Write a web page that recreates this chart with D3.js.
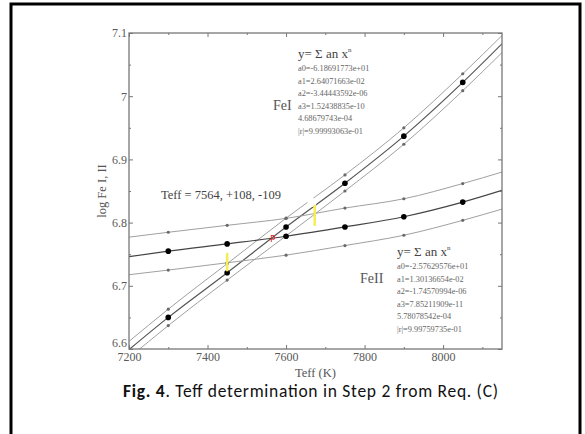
<!DOCTYPE html>
<html><head><meta charset="utf-8">
<script src="https://cdn.jsdelivr.net/npm/d3@7"></script>
<style>
html,body{margin:0;padding:0;background:#fff;}
svg{display:block;}
.serif{font-family:"Liberation Serif","Times New Roman",serif;}
</style></head>
<body><svg id="c" width="585" height="434"></svg>
<script>
// ---- data ----
const teff = [7300, 7450, 7600, 7750, 7900, 8050];
const feI    = [6.650, 6.7207, 6.7931, 6.8623, 6.9368, 7.0218];
const feIUp  = [6.663, 6.735, 6.807, 6.8755, 6.950, 7.0355];
const feILo  = [6.637, 6.709, 6.779, 6.850, 6.924, 7.0087];
const feII   = [6.7548, 6.7663, 6.7784, 6.7931, 6.8093, 6.8324];
const feIIUp = [6.7847, 6.7957, 6.8067, 6.8230, 6.8377, 6.8618];
const feIILo = [6.7249, 6.7364, 6.7485, 6.7637, 6.7800, 6.8036];

const fitX      = [7200, 7300, 7450, 7600, 7750, 7900, 8050, 8150];
const fitFeI    = [6.599, 6.650, 6.7207, 6.7931, 6.8623, 6.9368, 7.0218, 7.083];
const fitFeIUp  = [6.612, 6.663, 6.735, 6.807, 6.8755, 6.950, 7.0355, 7.096];
const fitFeILo  = [6.586, 6.637, 6.709, 6.779, 6.850, 6.924, 7.0087, 7.069];
const fitFeII   = [6.746, 6.7548, 6.7663, 6.7784, 6.7931, 6.8093, 6.8324, 6.851];
const fitFeIIUp = [6.777, 6.7847, 6.7957, 6.8067, 6.8230, 6.8377, 6.8618, 6.880];
const fitFeIILo = [6.7175, 6.7249, 6.7364, 6.7485, 6.7637, 6.7800, 6.8036, 6.8214];

const xTicks = [7200, 7400, 7600, 7800, 8000];
const xMinor = [7300, 7500, 7700, 7900, 8100];
const yTicks = [6.6, 6.7, 6.8, 6.9, 7.0, 7.1];
const yTickLabels = ["6.6", "6.7", "6.8", "6.9", "7", "7.1"];
const yMinor = [6.65, 6.75, 6.85, 6.95, 7.05];

const yellowBars = [{x: 7450, y0: 6.723, y1: 6.752}, {x: 7673, y0: 6.795, y1: 6.828}];
const whiteSpot = {x: 7666, y: 6.832};
const pMark = {x: 7566, y: 6.7747, label: "P"};

const teffNote = "Teff = 7564, +108, -109";
const feILabel = "FeI", feIILabel = "FeII";
const feICoeffs = ["a0=-6.18691773e+01", "a1=2.64071663e-02", "a2=-3.44443592e-06", "a3=1.52438835e-10", "4.68679743e-04", "|r|=9.99993063e-01"];
const feIICoeffs = ["a0=-2.57629576e+01", "a1=1.30136654e-02", "a2=-1.74570994e-06", "a3=7.85211909e-11", "5.78078542e-04", "|r|=9.99759735e-01"];
const xLabel = "Teff (K)", yLabel = "log Fe I, II";
const captionBold = "Fig. 4";
const captionRest = ". Teff determination in Step 2 from Req. (C)";

// ---- chart ----
const svg = d3.select("#c");
const L = 129, R = 502, T = 33, B = 349;
const x = d3.scaleLinear().domain([7200, 8150]).range([L, R]);
const y = d3.scaleLinear().domain([6.6, 7.1]).range([B, T]);

// outer frame
svg.append("path").attr("d", "M11,434 V4 H580 V434").attr("fill", "none").attr("stroke", "#000").attr("stroke-width", 3);

svg.append("defs").append("clipPath").attr("id", "clip")
  .append("rect").attr("x", L).attr("y", T).attr("width", R - L).attr("height", B - T);

const plot = svg.append("g").attr("clip-path", "url(#clip)");
const line = d3.line().x(d => x(d[0])).y(d => y(d[1])).curve(d3.curveMonotoneX);
const fits = [
  [fitFeIUp, "#a0a0a0", 1], [fitFeILo, "#a0a0a0", 1], [fitFeI, "#555", 1.2],
  [fitFeIIUp, "#a0a0a0", 1], [fitFeIILo, "#a0a0a0", 1], [fitFeII, "#444", 1.2]
];
fits.forEach(([vals, col, w]) => {
  plot.append("path").datum(fitX.map((t, i) => [t, vals[i]]))
    .attr("d", line).attr("fill", "none").attr("stroke", col).attr("stroke-width", w);
});

// small markers
[feIUp, feILo, feIIUp, feIILo].forEach(vals => {
  plot.selectAll(null).data(teff.map((t, i) => [t, vals[i]])).enter().append("circle")
    .attr("cx", d => x(d[0])).attr("cy", d => y(d[1])).attr("r", 1.6).attr("fill", "#6a6a6a");
});
// main markers
[feI, feII].forEach(vals => {
  plot.selectAll(null).data(teff.map((t, i) => [t, vals[i]])).enter().append("circle")
    .attr("cx", d => x(d[0])).attr("cy", d => y(d[1])).attr("r", 2.8).attr("fill", "#000");
});

// white spot, yellow bars, P
plot.append("circle").attr("cx", x(whiteSpot.x)).attr("cy", y(whiteSpot.y)).attr("r", 4.5).attr("fill", "#fff");
plot.selectAll(null).data(yellowBars).enter().append("line")
  .attr("x1", d => x(d.x)).attr("x2", d => x(d.x)).attr("y1", d => y(d.y0)).attr("y2", d => y(d.y1))
  .attr("stroke", "#f3ee52").attr("stroke-width", 2.5);
plot.append("text").attr("x", x(pMark.x)).attr("y", y(pMark.y) + 3.5).attr("text-anchor", "middle")
  .attr("font-family", "DejaVu Sans, sans-serif").attr("font-size", 9).attr("fill", "#e8201c").text(pMark.label);

// axes
const axCol = "#777";
function styleAxis(g) {
  g.select(".domain").remove();
  g.selectAll(".tick line").attr("stroke", axCol);
  g.selectAll("text").attr("fill", "#5a5a5a").attr("font-family", "Liberation Serif, serif").attr("font-size", 12);
}
svg.append("g").attr("transform", `translate(0,${B})`)
  .call(d3.axisBottom(x).tickValues(xTicks).tickSize(-4).tickPadding(3).tickFormat(d3.format("d"))).call(styleAxis);
svg.append("g").attr("transform", `translate(0,${B})`)
  .call(d3.axisBottom(x).tickValues(xMinor).tickSize(-2).tickFormat("")).call(styleAxis);
svg.append("g").attr("transform", `translate(0,${T})`)
  .call(d3.axisTop(x).tickValues(xTicks).tickSize(-4).tickFormat("")).call(styleAxis);
svg.append("g").attr("transform", `translate(0,${T})`)
  .call(d3.axisTop(x).tickValues(xMinor).tickSize(-2).tickFormat("")).call(styleAxis);
const yAx = svg.append("g").attr("transform", `translate(${L},0)`)
  .call(d3.axisLeft(y).tickValues(yTicks).tickSize(-4).tickPadding(2).tickFormat((d, i) => yTickLabels[i])).call(styleAxis);
// nudge the bottom-most label up so it clears the 7200 label
yAx.selectAll(".tick text").filter(d => d === 6.6).attr("dy", "-0.17em");
svg.append("g").attr("transform", `translate(${L},0)`)
  .call(d3.axisLeft(y).tickValues(yMinor).tickSize(-2).tickFormat("")).call(styleAxis);
svg.append("g").attr("transform", `translate(${R},0)`)
  .call(d3.axisRight(y).tickValues(yTicks).tickSize(-4).tickFormat("")).call(styleAxis);
svg.append("g").attr("transform", `translate(${R},0)`)
  .call(d3.axisRight(y).tickValues(yMinor).tickSize(-2).tickFormat("")).call(styleAxis);

svg.append("rect").attr("x", L).attr("y", T).attr("width", R - L).attr("height", B - T)
  .attr("fill", "none").attr("stroke", axCol).attr("stroke-width", 1.3);

// axis labels
svg.append("text").attr("class", "serif").attr("x", (L + R) / 2).attr("y", 377).attr("text-anchor", "middle")
  .attr("font-size", 12.5).attr("fill", "#555").text(xLabel);
svg.append("text").attr("class", "serif").attr("transform", `translate(106,${(T + B) / 2}) rotate(-90)`)
  .attr("text-anchor", "middle").attr("font-size", 12.5).attr("fill", "#555").text(yLabel);

// annotations
svg.append("text").attr("class", "serif").attr("x", 161).attr("y", 199).attr("font-size", 12.5)
  .attr("fill", "#444").text(teffNote);

function block(x0, yTitle, lines, lab, labX, labY) {
  const t = svg.append("text").attr("class", "serif").attr("x", x0).attr("y", yTitle)
    .attr("font-size", 13).attr("fill", "#444");
  t.append("tspan").text("y= \u03A3 an x");
  t.append("tspan").attr("font-size", 7).attr("dy", -6).text("n");
  svg.selectAll(null).data(lines).enter().append("text").attr("class", "serif")
    .attr("x", x0).attr("y", (d, i) => yTitle + 13 + i * 12.6).attr("font-size", 8.3).attr("fill", "#666").text(d => d);
  svg.append("text").attr("class", "serif").attr("x", labX).attr("y", labY).attr("font-size", 14)
    .attr("fill", "#555").text(lab);
}
block(298, 58, feICoeffs, feILabel, 273, 110);
block(397, 256, feIICoeffs, feIILabel, 360, 283);

// caption
const cap = svg.append("text").attr("x", 123).attr("y", 397)
  .attr("font-family", "Carlito, Calibri, Lato, sans-serif").attr("font-size", 17.5).attr("fill", "#111")
  .attr("textLength", 375).attr("lengthAdjust", "spacing");
cap.append("tspan").attr("font-weight", "bold").text(captionBold);
cap.append("tspan").text(captionRest);
</script></body></html>
